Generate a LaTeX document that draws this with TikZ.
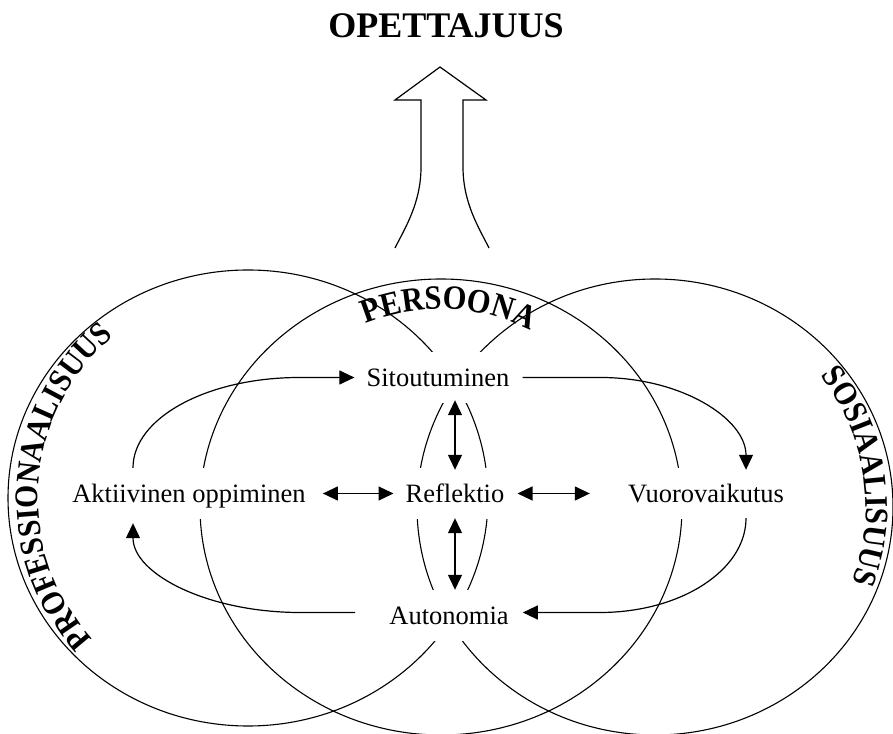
\documentclass[tikz,border=0pt]{standalone}
\usepackage{fontspec}
\setmainfont{Liberation Serif}
\newfontfamily\arcfont[FakeStretch=0.9]{Liberation Serif}
\usetikzlibrary{arrows.meta,calc,decorations.text}

\begin{document}
\begin{tikzpicture}[
    x=1pt,y=1pt,
    ring/.style={draw, line width=1.1pt},
    lbl/.style={font=\fontsize{26.5}{30}\selectfont, fill=white,
      inner xsep=2pt, inner ysep=16pt,
      text height=19pt, text depth=0pt, anchor=base},
    flow/.style={line width=1.2pt, -{Triangle[length=15pt,width=14pt]}},
    both/.style={line width=1.2pt,
      {Triangle[length=15pt,width=14pt]}-{Triangle[length=15pt,width=14pt]}},
    arcword/.style={decorate, decoration={text along path, text align=center, text={#1}}}
  ]
    \useasboundingbox (0,0) rectangle (893,733);

    % the three areas
    \coordinate (pro) at (248,235);
    \coordinate (per) at (441,226);
    \coordinate (sos) at (655,226);
    \draw[ring] (pro) ellipse[x radius=240, y radius=228];
    \draw[ring] (per) ellipse[x radius=241, y radius=228];
    \draw[ring] (sos) ellipse[x radius=238, y radius=228];

    \path[arcword={|\arcfont\bfseries\fontsize{33}{33}\selectfont|PROFESSIONAALISUUS}]
      ($(pro)+(231:210)$) arc[start angle=231, end angle=121, radius=210];
    \path[arcword={|\arcfont\bfseries\fontsize{34}{34}\selectfont|PERSOONA}]
      ($(per)+(122:198)$) arc[start angle=122, end angle=53.5, radius=198];
    \path[arcword={|\arcfont\bfseries\fontsize{33}{33}\selectfont|SOSIAALISUUS}]
      ($(sos)+(52:211)$) arc[start angle=52, end angle=-34.4, radius=211];

    % title and the big arrow
    \node[font=\bfseries\fontsize{36}{40}\selectfont, anchor=base] (title) at (446,695) {OPETTAJUUS};
    \draw[line width=1.2pt, line join=miter]
      (395,485) .. controls (405,505) and (421,530) .. (421,566) -- (421,633) -- (395,633)
      -- (440,666) -- (486,633) -- (463,633) -- (463,566)
      .. controls (463,530) and (479,505) .. (489,485);

    % concepts
    \node[lbl] (sit) at (438,346) {Sitoutuminen};
    \node[lbl] (akt) at (189,230) {Aktiivinen oppiminen};
    \node[lbl] (refl) at (455,230) {Reflektio};
    \node[lbl] (vuoro) at (706,230) {Vuorovaikutus};
    \node[lbl] (auto) at (449,108) {Autonomia};

    \draw[both] ($(sit.south -| refl.north)+(0,3)$) -- ($(refl.north)+(0,-2)$);
    \draw[both] ($(refl.south)+(0,1)$) -- (auto.north -| refl.south);
    \draw[both] ($(akt.east)+(15,0)$) -- ($(refl.west)+(-10,0)$);
    \draw[both] ($(refl.east)+(11,0)$) -- ($(vuoro.west)+(-36,0)$);

    % the cycle round Reflektio
    \draw[flow] ($(akt.north)+(-56,0)$) .. controls +(0,50) and +(-92,0) ..
      ($(sit.west)+(-65,0)$) -- ($(sit.west)+(-10,0)$);
    \draw[flow] ($(sit.east)+(11,0)$) -- ($(sit.east)+(89,0)$)
      .. controls +(81,0) and +(0,51) .. ($(vuoro.north)+(40,-2)$);
    \draw[flow] ($(vuoro.south)+(40,1)$) .. controls +(0,-52) and +(81,0) ..
      ($(auto.east)+(89,3)$) -- ($(auto.east)+(12,3)$);
    \draw[flow] ($(auto.west)+(-32,3)$) -- ($(auto.west)+(-87,3)$)
      .. controls +(-92,0) and +(0,-51) .. ($(akt.south)+(-56,-4)$);
  \end{tikzpicture}
\end{document}
